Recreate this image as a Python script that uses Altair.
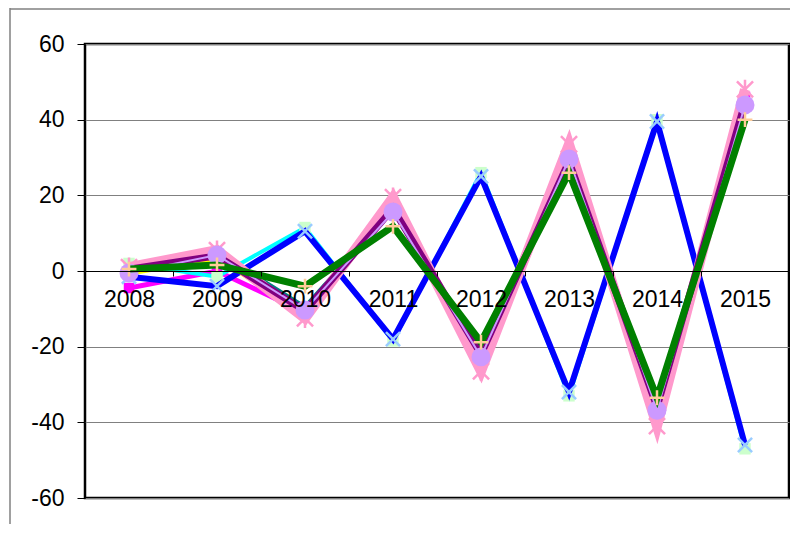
import altair as alt
import pandas as pd

years = ["2008", "2009", "2010", "2011", "2012", "2013", "2014", "2015"]

magenta = [-4.5, 0.0, -11.0, 17.0, -24.0, 31.0, -39.0, 46.0]
yellow = [-1.0, 3.0, -11.5, 17.5, -25.0, 32.0, -40.0, 46.0]
teal = [1.5, 5.0, -9.5, 16.5, -22.5, 30.0, -37.0, 45.0]
cyan = [2.0, -1.5, 11.5, -18.5, 26.0, -33.0, 40.0, -47.0]
blue = [-1.5, -4.0, 10.5, -18.0, 25.0, -32.0, 39.5, -46.0]
pink = [1.0, 5.5, -12.5, 19.5, -26.5, 33.5, -41.0, 48.0]
purple = [0.5, 4.0, -10.5, 16.5, -22.0, 29.0, -36.0, 44.5]
lavender = [-0.5, 4.2, -10.3, 15.6, -22.7, 29.6, -36.8, 43.9]
green = [0.5, 1.6, -4.0, 11.8, -18.8, 26.0, -33.5, 40.0]

series_values = {
    "magenta": magenta, "yellow": yellow, "teal": teal, "cyan": cyan,
    "blue": blue, "pink": pink, "purple": purple, "lavender": lavender,
    "green": green,
}

rows = []
for name, vals in series_values.items():
    for y, v in zip(years, vals):
        rows.append({"series": name, "year": y, "value": v})
df = pd.DataFrame(rows)

STAR = "M-1,-1L1,1M1,-1L-1,1M0,-1.2L0,1.2"
XMARK = "M-1,-1L1,1M1,-1L-1,1"
PLUS = "M-1,0L1,0M0,-1L0,1"

# name: (line color, line width, marker shape, marker color, filled, marker size, marker stroke)
styles = {
    "magenta": ("#FF00FF", 5, "square", "#FF00FF", True, 110, 1),
    "yellow": ("#FFFF00", 2, "triangle-up", "#FFFF00", True, 70, 1),
    "teal": ("#008080", 4, None, None, True, 0, 1),
    "cyan": ("#00FFFF", 4, "square", "#CCFFCC", True, 130, 1),
    "blue": ("#0000FF", 6, XMARK, "#99CCFF", False, 200, 2.5),
    "pink": ("#FF99CC", 10, STAR, "#FF99CC", False, 260, 2.5),
    "purple": ("#800080", 7, None, None, True, 0, 1),
    "lavender": ("#CC99FF", 2, "circle", "#CC99FF", True, 360, 1),
    "green": ("#008000", 7, PLUS, "#FFCC99", False, 220, 2.5),
}

FONT = "Liberation Sans"
NEG = "datum.value < 0 ? '-' + abs(datum.value) : '' + datum.value"

X = alt.X(
    "year:N", sort=years,
    scale=alt.Scale(type="band", paddingInner=0, paddingOuter=0, domain=years),
    axis=alt.Axis(title=None, orient="bottom", offset=-227, domainColor="#000000",
                  domainWidth=1, tickColor="#000000", tickSize=5, tickBand="extent",
                  labelAngle=0, labelFontSize=23, labelFont=FONT, labelColor="#000000",
                  labelPadding=12, grid=False, zindex=1),
)
Y = alt.Y(
    "value:Q",
    scale=alt.Scale(domain=[-60, 60], nice=False, zero=False),
    axis=alt.Axis(title=None, values=[-60, -40, -20, 0, 20, 40, 60], grid=True,
                  gridColor="#808080", gridWidth=1, domain=False, tickColor="#000000",
                  tickSize=8, labelFontSize=23, labelFont=FONT, labelColor="#000000",
                  labelPadding=13, labelExpr=NEG),
)

layers = []
for name in series_values:
    lc, lw, shape, mc, filled, msize, mstroke = styles[name]
    base = alt.Chart(df).transform_filter(alt.datum.series == name)
    layers.append(base.mark_line(color=lc, strokeWidth=lw, strokeJoin="miter").encode(x=X, y=Y))
    if shape is not None:
        if filled:
            layers.append(base.mark_point(shape=shape, filled=True, color=mc, size=msize,
                                          opacity=1).encode(x=X, y=Y))
        else:
            layers.append(base.mark_point(shape=shape, filled=False, color=mc, size=msize,
                                          strokeWidth=mstroke, opacity=1).encode(x=X, y=Y))

frame = alt.Data(values=[{"k": 1}])
frame_top = alt.Chart(frame).mark_rule(color="#808080", strokeWidth=1.5).encode(
    x=alt.value(-75), x2=alt.value(706), y=alt.value(-35))
frame_left = alt.Chart(frame).mark_rule(color="#808080", strokeWidth=1.5).encode(
    x=alt.value(-75), y=alt.value(-36), y2=alt.value(481))

chart = alt.layer(*layers, frame_top, frame_left).properties(
    width=704, height=454,
    autosize=alt.AutoSizeParams(type="none"),
    padding={"left": 77, "top": 36, "right": 1, "bottom": 26},
).configure_view(stroke="#000000", strokeWidth=2.5)

chart.save("out.html", embed_options={"renderer": "svg", "actions": False})
